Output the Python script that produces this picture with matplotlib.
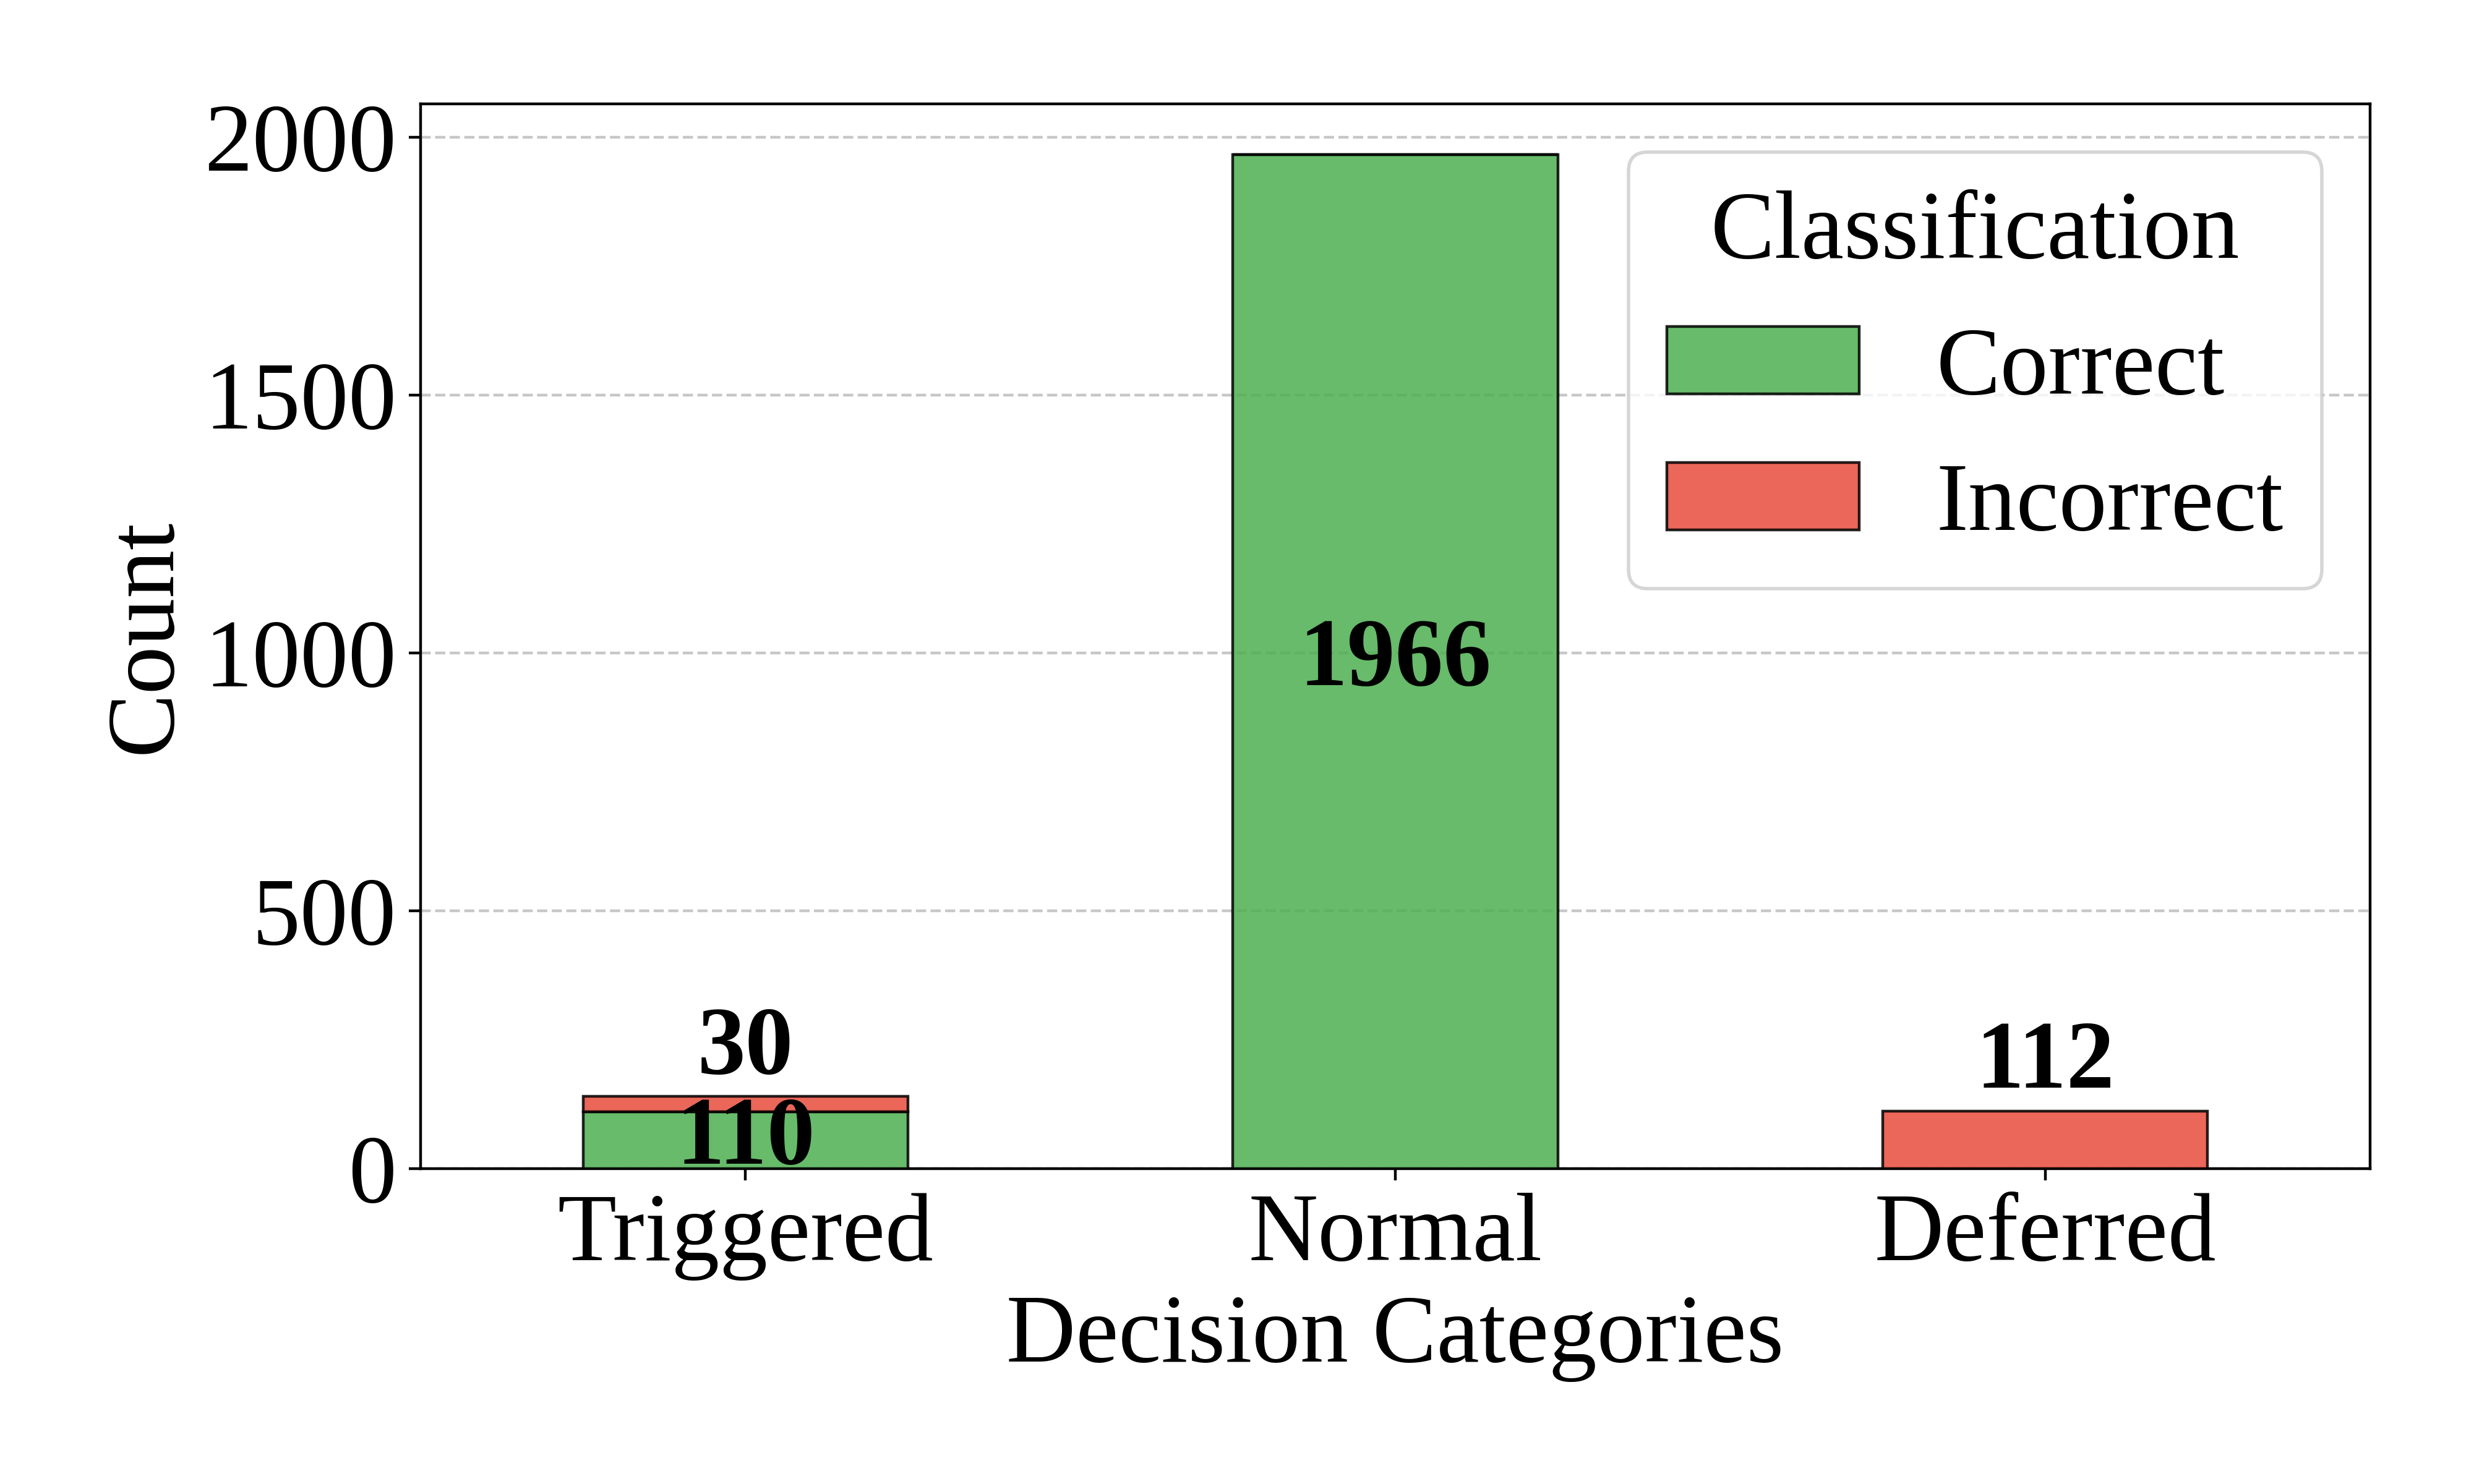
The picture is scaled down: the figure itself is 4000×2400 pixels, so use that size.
import numpy as np
import matplotlib
matplotlib.use("Agg")
import matplotlib.pyplot as plt

plt.rcParams['font.family'] = ['Liberation Serif', 'DejaVu Serif']

# data
categories = ["Triggered", "Normal", "Deferred"]
correct = [110, 1966, 0]
incorrect = [30, 0, 112]

green = "#4CAF50"
red = "#e74c3c"

fig, ax = plt.subplots(figsize=(10, 6), dpi=400)
fig.subplots_adjust(left=0.170, right=0.958, top=0.930, bottom=0.2125)

x = np.arange(len(categories))
width = 0.5
ax.bar(x, correct, width, color=green, alpha=0.85, edgecolor="black",
       linewidth=0.8, label="Correct", zorder=3)
ax.bar(x, incorrect, width, bottom=correct, color=red, alpha=0.85,
       edgecolor="black", linewidth=0.8, label="Incorrect", zorder=3)

# value labels
for i in range(len(categories)):
    if correct[i] > 0:
        ax.text(x[i], correct[i] / 2, str(correct[i]), ha="center", va="center",
                fontsize=28, fontweight="bold", zorder=4)
    if incorrect[i] > 0:
        top = correct[i] + incorrect[i]
        ax.text(x[i], top + 5, str(incorrect[i]), ha="center", va="bottom",
                fontsize=28, fontweight="bold", zorder=4)

ax.set_xlim(-0.5, 2.5)
ax.set_ylim(0, max(c + w for c, w in zip(correct, incorrect)) * 1.05)
ax.set_xticks(x)
ax.set_xticklabels(categories)
ax.set_yticks([0, 500, 1000, 1500, 2000])
ax.tick_params(axis="both", labelsize=28)
ax.set_xlabel("Decision Categories", fontsize=28, labelpad=4)
ax.set_ylabel("Count", fontsize=28)
ax.grid(axis="y", linestyle="--", alpha=0.7, zorder=0)
ax.set_axisbelow(True)

leg = ax.legend(title="Classification", fontsize=28, title_fontsize=28,
                loc="upper right")

plt.savefig("out.png", dpi=400)
